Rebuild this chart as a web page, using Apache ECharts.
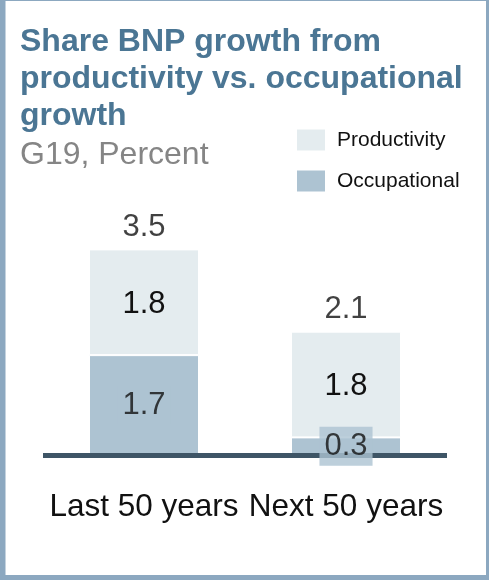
<!DOCTYPE html>
<html>
<head>
<meta charset="utf-8">
<script src="https://cdn.jsdelivr.net/npm/echarts@6/dist/echarts.min.js"></script>
<style>
  html, body { margin: 0; padding: 0; background: #fff; }
  #chart { width: 489px; height: 580px; }
</style>
</head>
<body>
<div id="chart"></div>
<script>
// Share of GDP growth: productivity vs. occupational contribution (percent)
const categories = ['Last 50 years', 'Next 50 years'];
const productivity = [1.8, 1.8];
const occupational = [1.7, 0.3];
const legendNames = ['Productivity', 'Occupational'];

// Stack totals shown above each bar
const totals = categories.map((_, i) => +(productivity[i] + occupational[i]).toFixed(1));

const FONT = '"Liberation Sans", Arial, Helvetica, sans-serif';
const COLOR_PROD = '#e4ecef';
const COLOR_OCC = '#adc3d2';
const BORDER = '#8ca8c0';

const chart = echarts.init(document.getElementById('chart'), null, { renderer: 'canvas' });

chart.setOption({
  animation: false,
  textStyle: { fontFamily: FONT },
  title: {
    text: 'Share BNP growth from\nproductivity vs. occupational\ngrowth',
    subtext: 'G19, Percent',
    left: 20,
    top: 24,
    padding: 0,
    itemGap: 2,
    textStyle: { fontFamily: FONT, fontSize: 32, fontWeight: 'bold', color: '#4b7694', lineHeight: 37 },
    subtextStyle: { fontFamily: FONT, fontSize: 32, color: '#858585', lineHeight: 37 }
  },
  legend: {
    data: legendNames,
    orient: 'vertical',
    left: 297,
    top: 127,
    padding: 0,
    itemWidth: 28,
    itemHeight: 21,
    itemGap: 15,
    icon: 'rect',
    selectedMode: false,
    itemStyle: { borderWidth: 0 },
    textStyle: { fontFamily: FONT, fontSize: 21, color: '#111', lineHeight: 21, padding: [5, 0, 0, 7] }
  },
  grid: { left: 43, right: 42, top: 220, bottom: 125 },
  xAxis: {
    type: 'category',
    data: categories,
    z: 3,
    axisLine: { lineStyle: { color: '#3e5566', width: 5, cap: 'butt' } },
    axisTick: { show: false },
    axisLabel: { interval: 0, fontFamily: FONT, fontSize: 31.5, lineHeight: 31, color: '#111', margin: 37 }
  },
  yAxis: { type: 'value', min: 0, max: 4, show: false },
  series: [
    {
      name: 'Occupational',
      type: 'bar',
      stack: 'growth',
      data: occupational,
      barWidth: 110,
      z: 2,
      itemStyle: { color: COLOR_OCC, borderColor: '#fff', borderWidth: 1 }
    },
    {
      name: 'Productivity',
      type: 'bar',
      stack: 'growth',
      data: productivity,
      barWidth: 110,
      z: 2,
      itemStyle: { color: COLOR_PROD, borderColor: '#fff', borderWidth: 1 },
      label: { show: true, position: 'inside', offset: [0, 2], fontFamily: FONT, fontSize: 31, lineHeight: 31, color: '#111' }
    },
    {
      // occupational values, drawn above the axis line
      type: 'scatter',
      z: 10,
      silent: true,
      symbol: 'circle',
      symbolSize: 1,
      itemStyle: { color: 'rgba(0,0,0,0)' },
      data: occupational.map((v, i) => ({ value: [i, v / 2], label: { formatter: String(v) } })),
      label: {
        show: true,
        position: 'inside',
        fontFamily: FONT, fontSize: 31, lineHeight: 31, color: '#111',
        backgroundColor: COLOR_OCC,
        padding: [4, 5]
      }
    },
    {
      // stack totals above each bar
      type: 'scatter',
      z: 10,
      silent: true,
      symbol: 'circle',
      symbolSize: 1,
      itemStyle: { color: 'rgba(0,0,0,0)' },
      data: totals.map((v, i) => [i, v]),
      label: {
        show: true,
        position: 'top',
        distance: 6,
        formatter: p => String(p.value[1]),
        fontFamily: FONT, fontSize: 31, lineHeight: 31, color: '#111'
      }
    }
  ],
  graphic: [
    { type: 'rect', silent: true, z: 100, shape: { x: 0, y: 0, width: 489, height: 1 }, style: { fill: BORDER } },
    { type: 'rect', silent: true, z: 100, shape: { x: 0, y: 0, width: 5.5, height: 580 }, style: { fill: BORDER } },
    { type: 'rect', silent: true, z: 100, shape: { x: 486, y: 0, width: 3, height: 580 }, style: { fill: BORDER } },
    { type: 'rect', silent: true, z: 100, shape: { x: 0, y: 575, width: 489, height: 5 }, style: { fill: BORDER } }
  ]
});
</script>
</body>
</html>
